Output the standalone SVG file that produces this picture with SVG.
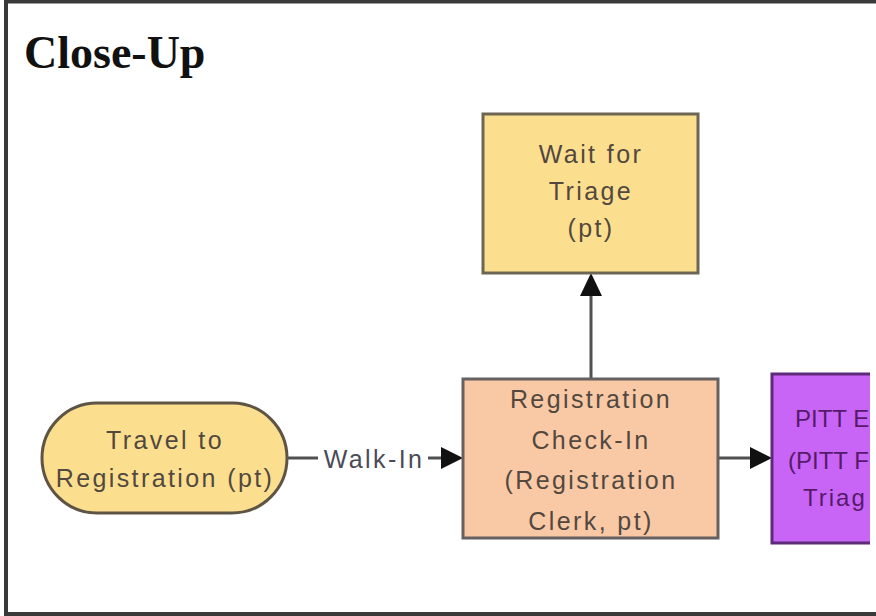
<svg xmlns="http://www.w3.org/2000/svg" width="876" height="616" viewBox="0 0 876 616">
<style>
  .lbl { font-family: "Liberation Sans", Arial, sans-serif; font-size: 25px; letter-spacing: 2.4px; fill: #524840; text-anchor: middle; dominant-baseline: central; }
  .pitt { font-family: "Liberation Sans", Arial, sans-serif; font-size: 24px; fill: #561a6a; dominant-baseline: central; }
  .conn { stroke: #505050; stroke-width: 3; fill: none; }
  .title { font-family: "Liberation Serif", "Times New Roman", serif; font-weight: bold; font-size: 46px; fill: #111; }
</style>
<defs>
  <clipPath id="clipR"><rect x="0" y="0" width="870" height="616"/></clipPath>
</defs>
<rect width="876" height="616" fill="#fff"/>
<path d="M6,616 L6,1.5 L876,1.5 M4,614 L876,614" stroke="#3a3a3a" stroke-width="4" fill="none"/>
<text class="title" x="24" y="68">Close-Up</text>

<g id="connectors">
  <line class="conn" x1="287" y1="458" x2="318" y2="458"/>
  <line class="conn" x1="428" y1="458" x2="442" y2="458"/>
  <path d="M441,447 L463,458 L441,469 z" fill="#111"/>
  <text class="lbl" x="374" y="459" style="fill:#4a4a58">Walk-In</text>
  <line class="conn" x1="591" y1="379" x2="591" y2="296"/>
  <path d="M580,296 L591,273 L602,296 z" fill="#111"/>
  <line class="conn" x1="718" y1="458" x2="751" y2="458"/>
  <path d="M750,447 L772,458 L750,469 z" fill="#111"/>
</g>

<g id="travel">
  <rect x="42" y="403" width="245" height="110" rx="55" ry="55" fill="#fcdf8e" stroke="#5e5446" stroke-width="3"/>
  <text class="lbl" x="165" y="440">Travel to</text>
  <text class="lbl" x="165" y="478">Registration (pt)</text>
</g>

<g id="wait">
  <rect x="483" y="114" width="215" height="159" fill="#fcdf8e" stroke="#6e6654" stroke-width="3"/>
  <text class="lbl" x="591" y="154">Wait for</text>
  <text class="lbl" x="591" y="191">Triage</text>
  <text class="lbl" x="591" y="228">(pt)</text>
</g>

<g id="registration">
  <rect x="463" y="379" width="255" height="159" fill="#f9c9a6" stroke="#666060" stroke-width="3"/>
  <text class="lbl" x="591" y="399">Registration</text>
  <text class="lbl" x="591" y="440">Check-In</text>
  <text class="lbl" x="591" y="480">(Registration</text>
  <text class="lbl" x="591" y="521">Clerk, pt)</text>
</g>

<g id="pitt">
  <rect x="772" y="374" width="140" height="169" fill="#c865f7" stroke="#5e2a7a" stroke-width="3" clip-path="url(#clipR)"/>
  <text class="pitt" x="795" y="418">PITT E</text>
  <text class="pitt" x="788" y="460">(PITT F</text>
  <text class="pitt" x="803" y="497" letter-spacing="2">Triag</text>
</g>
</svg>
